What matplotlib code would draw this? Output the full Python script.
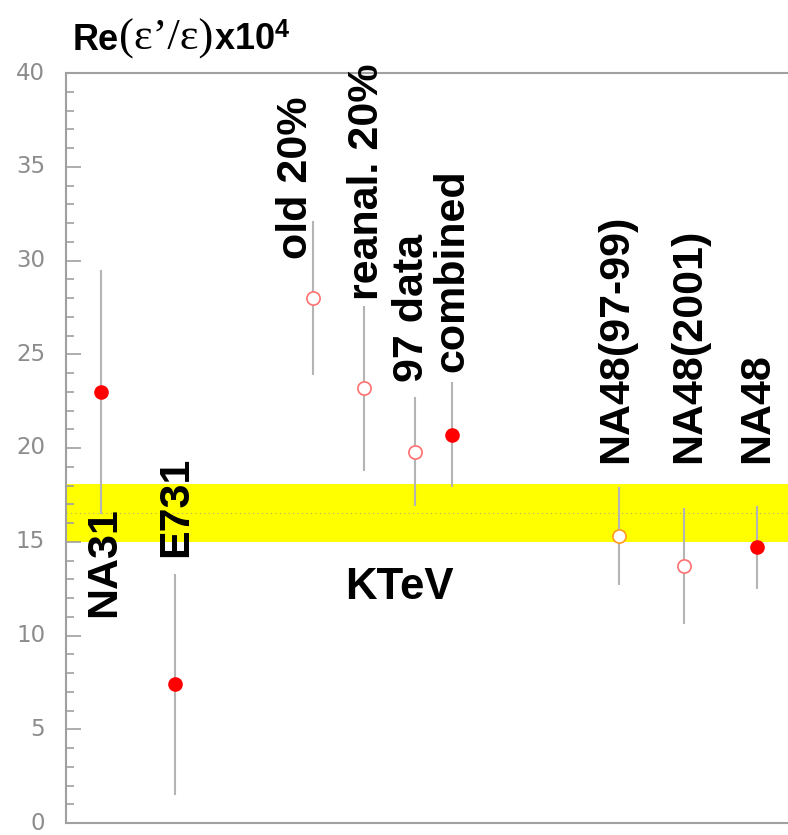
import matplotlib
matplotlib.use("Agg")
import matplotlib.pyplot as plt
from matplotlib.ticker import MultipleLocator
from matplotlib.offsetbox import TextArea, HPacker, AnnotationBbox

plt.rcParams['mathtext.fontset'] = 'custom'
plt.rcParams['mathtext.rm'] = 'Liberation Sans:bold'
plt.rcParams['mathtext.bf'] = 'Liberation Sans:bold'
plt.rcParams['mathtext.it'] = 'Liberation Serif'

# measurements of Re(eps'/eps) x 1e4
labels = ["NA31", "E731", "old 20%", "reanal. 20%", "97 data", "combined",
          "NA48(97-99)", "NA48(2001)", "NA48"]
xpos = [35, 109, 247, 298, 349, 386, 553, 618, 691]
values = [23.0, 7.4, 28.0, 23.2, 19.8, 20.7, 15.3, 13.7, 14.7]
errors = [6.5, 5.9, 4.1, 4.4, 2.9, 2.8, 2.6, 3.1, 2.2]
filled = [True, True, False, False, False, True, False, False, True]

world_avg = 16.55
world_err = 1.55

# label anchors (baseline x, start y) for the rotated names
label_x = [49, 121, 241, 312, 357, 397, 561, 634, 702]
label_y = [11.0, 14.2, 30.1, 27.9, 23.5, 24.05, 19.2, 19.2, 19.2]

W, H = 788, 835
fig = plt.figure(figsize=(W / 100, H / 100), dpi=100)
ax = fig.add_axes([66 / W, 12 / H, (W - 66) / W, 750 / H])

ax.set_xlim(0, W - 66)
ax.set_ylim(0, 40)

# world average band
ax.axhspan(world_avg - world_err, world_avg + world_err, color="#ffff00", zorder=0, lw=0)
ax.axhline(world_avg, color="#b0b070", lw=0.8, ls=(0, (1, 3)), zorder=1)

for i in range(len(labels)):
    ax.errorbar(xpos[i], values[i], yerr=errors[i], fmt="none",
                ecolor="#b4b4b4", elinewidth=1.5, capsize=0, zorder=2)
    if filled[i]:
        ax.plot(xpos[i], values[i], "o", ms=9.5, mfc="#ff0000", mec="#ff0000", zorder=3)
    else:
        edge = "#ff9a1a" if labels[i] == "NA48(97-99)" else "#ff7070"
        ax.plot(xpos[i], values[i], "o", ms=9.5, mfc="white", mec=edge, mew=1.2, zorder=3)
    ax.text(label_x[i], label_y[i], labels[i], rotation=90, rotation_mode="anchor",
            ha="left", va="baseline", fontsize=31, fontweight="bold",
            family="Liberation Sans", zorder=4)

ax.text(279, 11.95, "KTeV", ha="left", va="baseline", fontsize=31.5,
        fontweight="bold", family="Liberation Sans")

# axis styling
for s in ["left", "bottom", "top"]:
    ax.spines[s].set_color("#a0a0a0")
    ax.spines[s].set_linewidth(1.5)
ax.spines["right"].set_visible(False)
ax.set_xticks([])
ax.yaxis.set_major_locator(MultipleLocator(5))
ax.yaxis.set_minor_locator(MultipleLocator(1))
ax.tick_params(axis="y", which="major", direction="in", length=11, width=1.2,
               color="#a0a0a0", labelcolor="#8c8c8c", labelsize=16.5, pad=15)
ax.tick_params(axis="y", which="minor", direction="in", length=6, width=1.2,
               color="#a0a0a0")
for t in ax.get_yticklabels():
    t.set_family("DejaVu Sans")
    t.set_va("center")

# y title: bold sans with the epsilon ratio set in serif
bold = dict(fontsize=26, fontweight="bold", family="Liberation Sans")
title = HPacker(children=[
    TextArea("Re", textprops=bold),
    TextArea("(ε’/ε)", textprops=dict(fontsize=32, family="Liberation Serif")),
    TextArea(r"x10$^{\mathbf{4}}$", textprops=bold),
], align="baseline", pad=0, sep=0)
fig.add_artist(AnnotationBbox(title, (73 / W, 1 - 59 / H), xycoords="figure fraction",
                              box_alignment=(0, 0), frameon=False, pad=0))

fig.savefig("out.png", dpi=100)
